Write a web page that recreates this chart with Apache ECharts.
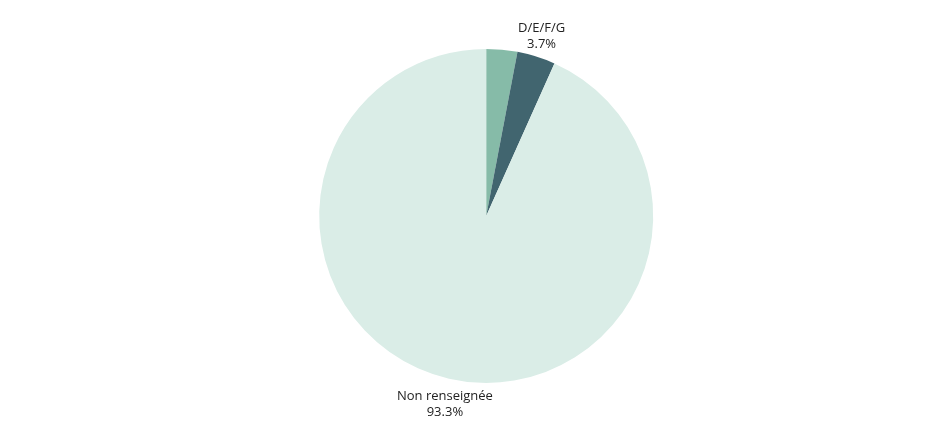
<!DOCTYPE html>
<html>
<head>
<meta charset="utf-8">
<script src="https://cdn.jsdelivr.net/npm/echarts@6/dist/echarts.min.js"></script>
<style>
html,body{margin:0;padding:0;background:#fff;}
#chart{width:935px;height:437px;}
</style>
</head>
<body>
<div id="chart"></div>
<script>
const categories = ['A/B/C', 'D/E/F/G', 'Non renseignée'];
const values = [3.0, 3.7, 93.3];
const colors = ['#86bba8', '#41656f', '#daede7'];
const showLabel = [false, true, true];

const chart = echarts.init(document.getElementById('chart'));
chart.setOption({
  animation: false,
  series: [{
    type: 'pie',
    center: ['52%', '49.4%'],
    radius: 167,
    startAngle: 90,
    clockwise: true,
    avoidLabelOverlap: false,
    data: categories.map((c, i) => ({
      name: c,
      value: values[i],
      itemStyle: { color: colors[i] },
      label: { show: showLabel[i] }
    })),
    label: {
      position: 'outside',
      formatter: p => p.name + '\n' + p.value.toFixed(1) + '%',
      fontFamily: 'Open Sans',
      fontSize: 13,
      color: '#222',
      lineHeight: 16
    },
    labelLine: { show: false, length: 21, length2: 0 },
    labelLayout: function (p) {
      const top = p.labelRect.y < 200;
      return { align: 'center', verticalAlign: 'middle', dx: top ? -6 : 3, dy: top ? 0 : 5 };
    },
    emphasis: { disabled: true }
  }]
});
</script>
</body>
</html>
